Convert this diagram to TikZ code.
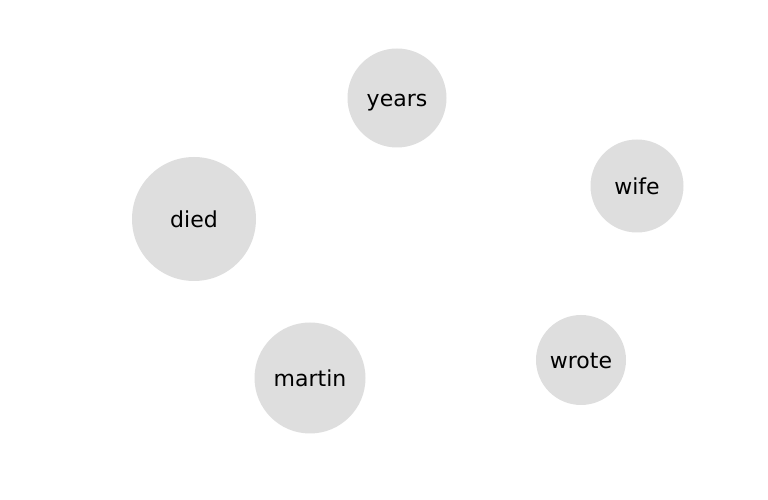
\documentclass[tikz,border=0pt]{standalone}
\usepackage{fontspec}
\setmainfont{DejaVu Sans}
\usetikzlibrary{positioning}
\definecolor{wordfill}{RGB}{222,222,222}
\tikzset{
  font=\fontsize{22}{26}\selectfont,
  word/.style={
    circle,
    fill=wordfill,
    inner sep=0pt,
    text height=20pt,
    text depth=3pt,
    text=black
  }
}
\begin{document}
\begin{tikzpicture}[x=1pt,y=1pt]

  \useasboundingbox (0,0) rectangle (768,500);

  \node[word,minimum size=99pt] at (397,402) (years) {years};
  \node[word,minimum size=93pt] at (637,314) (wife) {wife};
  \node[word,minimum size=124pt] at (194,281) (died) {died};
  \node[word,minimum size=111pt] at (310,122) (martin) {martin};
  \node[word,minimum size=90pt] at (581,140) (wrote) {wrote};

\end{tikzpicture}
\end{document}
